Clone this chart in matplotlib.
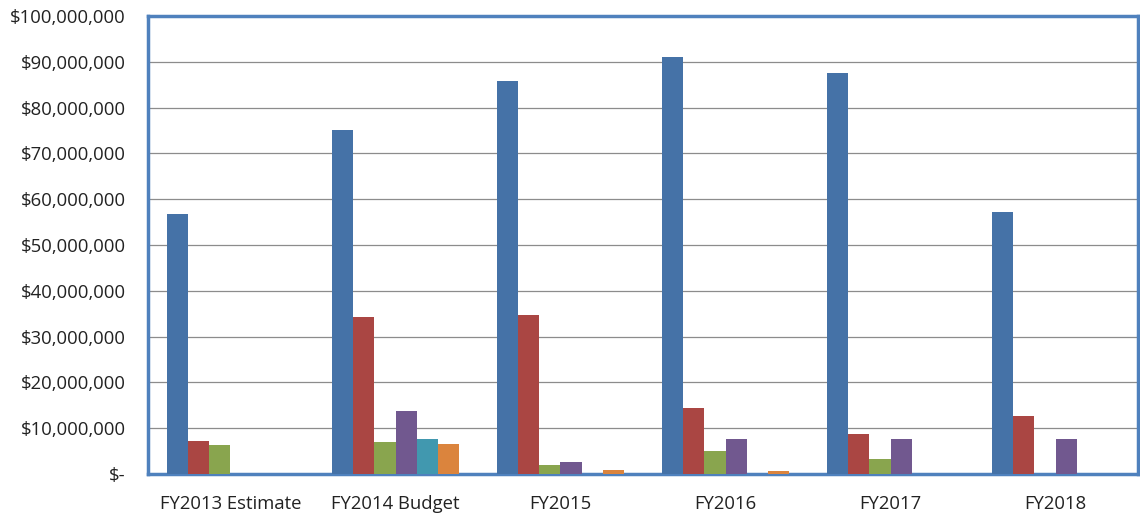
import numpy as np
import matplotlib.pyplot as plt
from matplotlib.ticker import FuncFormatter

# 数据
categories = ['FY2013 Estimate', 'FY2014 Budget', 'FY2015', 'FY2016', 'FY2017', 'FY2018']
series_blue = [56.8e6, 75.1e6, 85.8e6, 91.0e6, 87.6e6, 57.2e6]
series_red = [7.2e6, 34.3e6, 34.7e6, 14.4e6, 8.7e6, 12.6e6]
series_green = [6.3e6, 7.0e6, 1.9e6, 5.0e6, 3.2e6, 0]
series_purple = [0, 13.7e6, 2.6e6, 7.6e6, 7.6e6, 7.6e6]
series_teal = [0, 7.6e6, 0, 0, 0, 0]
series_orange = [0, 6.5e6, 0.9e6, 0.65e6, 0, 0]

all_series = [series_blue, series_red, series_green, series_purple, series_teal, series_orange]
colors = ['#4572A7', '#AA4643', '#89A54E', '#71588F', '#4198AF', '#DB843D']

plt.rcParams['font.family'] = ['Open Sans', 'DejaVu Sans']

fig = plt.figure(figsize=(11.4, 5.15), dpi=100)
ax = fig.add_axes([148 / 1140, 1 - 474 / 515, (1138 - 148) / 1140, (474 - 16) / 515])

x = np.arange(len(categories))
w = 0.129
for i, (vals, c) in enumerate(zip(all_series, colors)):
    ax.bar(x + (i - 2.5) * w, vals, width=w, color=c, zorder=3)

ax.set_xlim(-0.5, len(categories) - 0.5)
ax.set_ylim(0, 100e6)
ax.set_yticks(np.arange(0, 100e6 + 1, 10e6))
ax.yaxis.set_major_formatter(FuncFormatter(lambda v, p: '$-' if v == 0 else f'${v:,.0f}'))
ax.set_xticks(x)
ax.set_xticklabels(categories)
ax.tick_params(axis='both', length=0, labelsize=13.3, colors='#222222')
ax.tick_params(axis='y', pad=16)
ax.tick_params(axis='x', pad=15)

ax.grid(axis='y', color='#8c8c8c', linewidth=0.9, zorder=0)
for s in ax.spines.values():
    s.set_color('#4F81BD')
    s.set_linewidth(2.5)

fig.savefig('out.png', dpi=100)
